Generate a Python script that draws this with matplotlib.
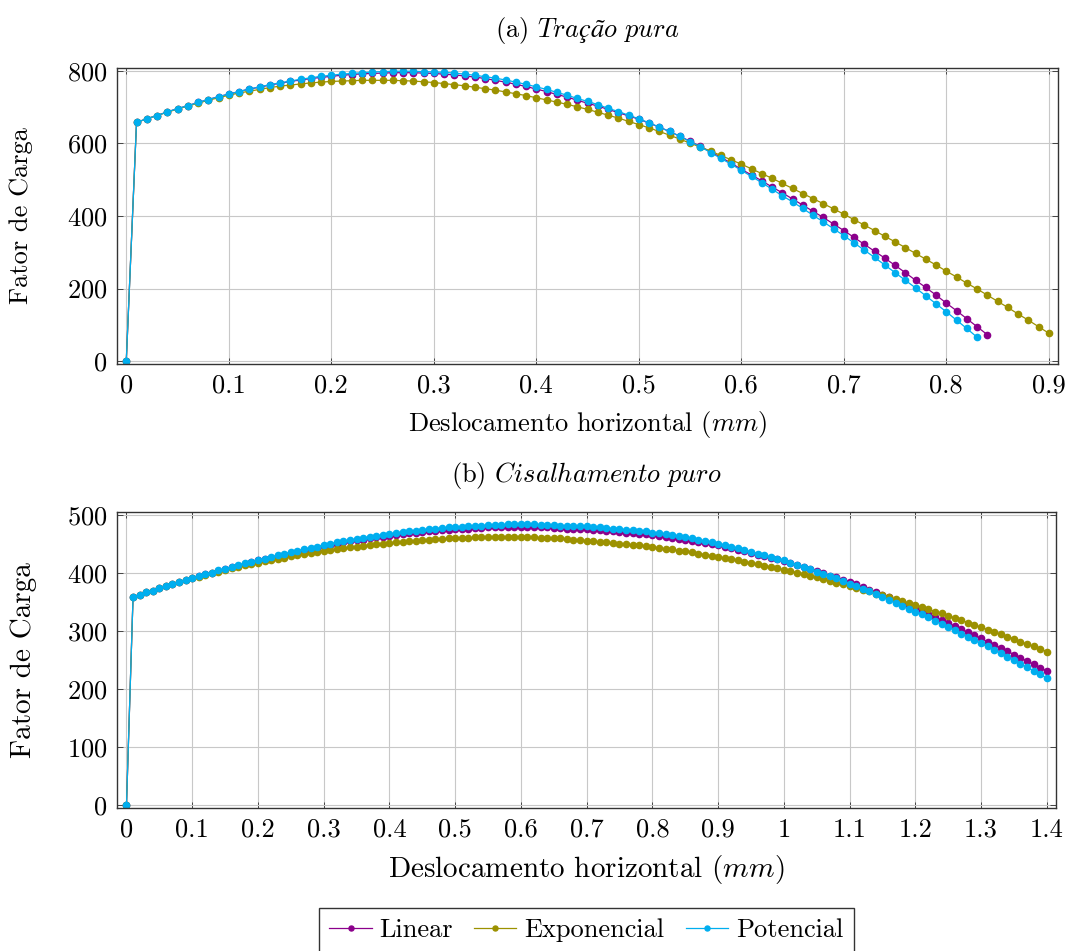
import matplotlib
matplotlib.use("Agg")
import matplotlib.pyplot as plt
from matplotlib.ticker import MultipleLocator, FormatStrFormatter

plt.rcParams['font.family'] = ['cmr10', 'DejaVu Serif']
plt.rcParams['mathtext.fontset'] = 'cm'
plt.rcParams['axes.formatter.use_mathtext'] = True
plt.rcParams['axes.unicode_minus'] = False

# ------------------------------------------------------
# (a) pure tension: load factor vs horizontal displacement (mm)
# ------------------------------------------------------
tr_linear = [
    0, 658, 668, 677, 687, 696, 704, 713, 721, 729, 736,
    743, 750, 755, 761, 766, 771, 775, 779, 782, 785,
    788, 790, 792, 793, 794, 795, 795, 795, 794, 793,
    791, 789, 786, 783, 779, 774, 769, 763, 757, 750,
    743, 735, 728, 719, 711, 703, 694, 685, 676, 667,
    656, 645, 633, 620, 606, 592, 577, 562, 546, 529,
    513, 497, 480, 464, 447, 430, 413, 396, 378, 360,
    341, 322, 303, 284, 264, 244, 223, 203, 182, 160,
    139, 117, 95, 73,
]
tr_expo = [
    0, 658, 668, 677, 686, 695, 703, 711, 719, 726, 733,
    739, 744, 749, 754, 758, 761, 764, 767, 769, 771,
    772, 773, 774, 774, 774, 774, 773, 772, 770, 768,
    765, 762, 759, 755, 751, 747, 742, 737, 732, 726,
    720, 714, 708, 701, 694, 686, 678, 670, 661, 652,
    643, 633, 623, 612, 601, 590, 579, 567, 555, 543,
    530, 517, 504, 490, 476, 462, 448, 434, 420, 405,
    390, 375, 360, 344, 329, 313, 297, 281, 265, 248,
    232, 215, 199, 182, 165, 148, 130, 113, 95, 77,
]
tr_power = [
    0, 658, 668, 677, 687, 696, 704, 713, 721, 729, 736,
    743, 750, 756, 762, 767, 772, 777, 781, 785, 788,
    791, 793, 795, 797, 798, 799, 799, 799, 798, 797,
    796, 794, 791, 788, 784, 780, 775, 769, 763, 756,
    749, 741, 733, 724, 716, 707, 697, 688, 678, 668,
    657, 645, 633, 620, 605, 591, 575, 559, 543, 526,
    509, 492, 474, 456, 439, 421, 402, 384, 365, 346,
    326, 306, 286, 265, 244, 223, 202, 180, 158, 136,
    113, 90, 66,
]

# ------------------------------------------------------
# (b) pure shear
# ------------------------------------------------------
sh_linear = [
    0, 359, 363, 367, 370, 374, 378, 381, 385, 388, 392,
    395, 398, 401, 404, 407, 410, 413, 416, 419, 422,
    424, 427, 430, 432, 435, 437, 440, 442, 444, 447,
    449, 451, 453, 455, 457, 458, 460, 462, 463, 465,
    466, 467, 469, 470, 471, 472, 473, 474, 475, 476,
    476, 477, 478, 478, 479, 479, 479, 480, 480, 480,
    480, 479, 479, 479, 478, 478, 477, 477, 476, 476,
    475, 474, 473, 472, 471, 470, 469, 468, 467, 466,
    464, 463, 461, 459, 458, 456, 454, 452, 450, 448,
    445, 443, 440, 438, 435, 432, 430, 427, 424, 421,
    417, 414, 411, 407, 404, 400, 396, 393, 389, 385,
    381, 376, 372, 368, 363, 359, 354, 349, 345, 340,
    335, 330, 325, 319, 314, 309, 304, 298, 293, 288,
    282, 277, 271, 266, 260, 254, 249, 243, 237, 232,
]
sh_expo = [
    0, 359, 363, 367, 370, 374, 378, 381, 385, 388, 391,
    394, 397, 400, 403, 406, 409, 411, 414, 416, 418,
    421, 423, 425, 427, 429, 431, 433, 435, 437, 438,
    440, 442, 443, 445, 446, 447, 449, 450, 451, 452,
    453, 454, 455, 456, 457, 458, 459, 459, 460, 460,
    461, 461, 462, 462, 462, 462, 462, 462, 462, 462,
    462, 462, 461, 461, 460, 460, 459, 458, 457, 456,
    455, 454, 453, 452, 451, 450, 449, 448, 447, 445,
    444, 442, 441, 439, 438, 436, 434, 432, 430, 428,
    426, 424, 422, 420, 418, 416, 413, 411, 409, 406,
    404, 401, 399, 396, 393, 390, 387, 384, 381, 378,
    375, 372, 369, 365, 362, 359, 355, 352, 349, 345,
    342, 338, 334, 331, 327, 323, 319, 315, 311, 307,
    303, 299, 295, 291, 287, 282, 278, 274, 270, 265,
]
sh_power = [
    0, 359, 363, 367, 370, 374, 378, 381, 385, 388, 392,
    395, 398, 401, 405, 408, 411, 414, 417, 420, 423,
    425, 428, 431, 434, 436, 439, 441, 444, 446, 449,
    451, 453, 455, 457, 459, 461, 463, 464, 466, 468,
    469, 471, 472, 473, 475, 476, 477, 478, 479, 480,
    480, 481, 482, 482, 483, 483, 483, 484, 484, 484,
    484, 484, 483, 483, 483, 482, 482, 482, 481, 481,
    480, 479, 478, 477, 476, 475, 474, 473, 472, 470,
    469, 467, 466, 464, 462, 460, 458, 455, 453, 450,
    448, 445, 443, 440, 437, 434, 431, 428, 425, 422,
    418, 415, 411, 407, 403, 399, 395, 391, 387, 382,
    378, 373, 369, 364, 359, 354, 349, 344, 339, 334,
    329, 324, 318, 313, 307, 302, 296, 291, 285, 279,
    274, 268, 262, 256, 250, 244, 238, 232, 226, 219,
]

series_names = ["Linear", "Exponencial", "Potencial"]
series_colors = ["#8b008b", "#9c9100", "#00aeef"]

tr_data = [tr_linear, tr_expo, tr_power]
sh_data = [sh_linear, sh_expo, sh_power]


def disp(n):
    # displacement steps of 0.01 mm
    return [i / 100 for i in range(n)]


def style_axis(ax):
    ax.grid(True, color="#c8c8c8", linewidth=0.8)
    ax.set_axisbelow(True)
    ax.tick_params(direction="in", top=True, right=True, length=4.5,
                   width=0.7, color="#444444", labelsize=19, pad=7)
    for sp in ax.spines.values():
        sp.set_linewidth(1.0)
        sp.set_color("#333333")


fig = plt.figure(figsize=(10.66, 9.51), dpi=100)
ax1 = fig.add_axes([0.1098, 0.6172, 0.8827, 0.3113])
ax2 = fig.add_axes([0.1100, 0.1500, 0.8806, 0.3113])

for ys, name, col in zip(tr_data, series_names, series_colors):
    ax1.plot(disp(len(ys)), ys, color=col, lw=0.9, marker="o",
             markersize=4.5, label=name)
for ys, name, col in zip(sh_data, series_names, series_colors):
    ax2.plot(disp(len(ys)), ys, color=col, lw=0.9, marker="o",
             markersize=4.5, label=name)

ax1.set_xlim(-0.009, 0.909)
ax1.set_ylim(-8, 808)
ax1.xaxis.set_major_locator(MultipleLocator(0.1))
ax1.yaxis.set_major_locator(MultipleLocator(200))
ax1.xaxis.set_major_formatter(FormatStrFormatter("%g"))

ax2.set_xlim(-0.014, 1.414)
ax2.set_ylim(-5, 505)
ax2.xaxis.set_major_locator(MultipleLocator(0.1))
ax2.yaxis.set_major_locator(MultipleLocator(100))
ax2.xaxis.set_major_formatter(FormatStrFormatter("%g"))

style_axis(ax1)
style_axis(ax2)

ax1.set_title(r"(a) $\mathit{Tração\ pura}$", fontsize=19, pad=22)
ax2.set_title(r"(b) $\mathit{Cisalhamento\ puro}$", fontsize=19, pad=22)
ax1.set_xlabel(r"Deslocamento horizontal ($mm$)", fontsize=19, labelpad=8)
ax2.set_xlabel(r"Deslocamento horizontal ($mm$)", fontsize=21, labelpad=8)
ax1.set_ylabel("Fator de Carga", fontsize=19)
ax2.set_ylabel("Fator de Carga", fontsize=21)
ax1.yaxis.set_label_coords(-0.089, 0.5)
ax2.yaxis.set_label_coords(-0.086, 0.5)

handles, labels = ax2.get_legend_handles_labels()
fig.legend(handles, labels, loc="upper center", bbox_to_anchor=(0.55, 0.045),
           ncol=3, fontsize=19, frameon=True, fancybox=False, edgecolor="black",
           handlelength=1.6, handletextpad=0.3, columnspacing=0.8,
           borderpad=0.4, borderaxespad=0, markerscale=0.8)

fig.savefig("out.png", dpi=100)
